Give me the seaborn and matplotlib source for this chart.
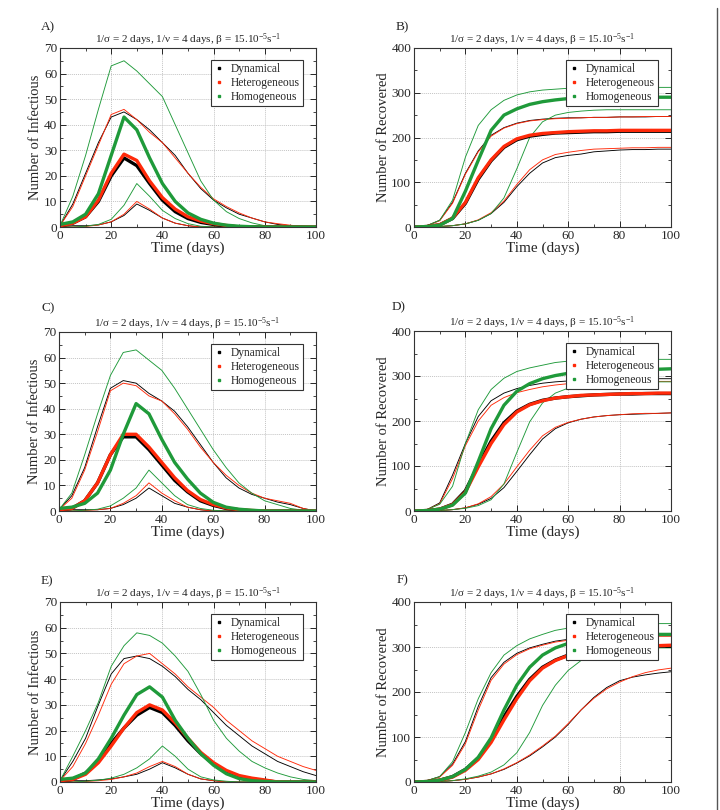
import seaborn as sns
import matplotlib.pyplot as plt
from matplotlib.lines import Line2D
from matplotlib.ticker import MultipleLocator

# time grid (days), values read every 5 days
days = list(range(0, 101, 5))

# ---- A) infectious ----
a_dyn = [0.5, 1.5, 4, 10, 20, 27, 24, 17, 10.5, 6, 3.3, 1.8, 1, 0.4, 0, 0, 0, 0, 0, 0, 0]
a_het = [0.5, 1.5, 4, 10.5, 21, 28.5, 26, 18, 11.5, 7, 4, 2.3, 1.3, 0.6, 0, 0, 0, 0, 0, 0, 0]
a_hom = [1, 2, 5, 13, 28, 43, 38, 27, 17, 10, 5.5, 3, 1.5, 0.7, 0.3, 0.1, 0, 0, 0, 0, 0]
a_dyn_hi = [0.5, 9, 21, 33, 43, 45, 42, 38, 33, 28, 21, 15, 10.5, 7.5, 5, 3.5, 2, 1, 0.5, 0.3, 0]
a_het_hi = [0.5, 8, 20, 32, 44, 46, 42, 37, 33, 27, 21, 15.5, 11, 8, 5.5, 3.5, 2, 1.3, 0.7, 0.2, 0]
a_hom_hi = [0.5, 12, 28, 46, 63, 65, 61, 56, 51, 40, 29, 18, 10.5, 6, 3.3, 1.6, 0.5, 0, 0, 0, 0]
a_dyn_lo = [0, 0.5, 0.5, 0.8, 2, 4.5, 9, 6.5, 3.5, 1.5, 0.5, 0, 0, 0, 0, 0, 0, 0, 0, 0, 0]
a_het_lo = [0, 0, 0.2, 0.8, 2, 5, 10, 7, 3.5, 1.5, 0.5, 0, 0, 0, 0, 0, 0, 0, 0, 0, 0]
a_hom_lo = [0, 0, 0.3, 1, 3, 8.5, 17, 12, 6.5, 3.3, 1.3, 0.3, 0, 0, 0, 0, 0, 0, 0, 0, 0]

# ---- B) recovered ----
b_dyn = [0, 1, 5, 19, 53, 107, 148, 178, 195, 203, 207, 210, 211, 212, 213, 213, 214, 214, 214, 214, 214]
b_het = [0, 1, 5, 20, 55, 110, 150, 180, 197, 205, 209, 211, 213, 214, 215, 215, 216, 216, 216, 216, 216]
b_hom = [0, 1, 4, 19, 80, 149, 216, 250, 264, 274, 280, 284, 287, 288, 289, 290, 290, 290, 290, 290, 290]
b_dyn_hi = [0, 3, 15, 55, 120, 170, 205, 222, 232, 238, 241, 243, 244, 244, 245, 245, 246, 246, 246, 247, 247]
b_het_hi = [0, 3, 14, 53, 118, 168, 203, 221, 231, 237, 240, 242, 243, 244, 245, 245, 246, 246, 247, 247, 247]
b_hom_hi = [0, 3, 15, 60, 156, 227, 262, 283, 295, 302, 306, 308, 310, 310, 311, 311, 311, 312, 312, 312, 312]
b_dyn_lo = [0, 0, 1, 3, 7, 15, 30, 55, 90, 120, 143, 155, 160, 163, 168, 170, 172, 173, 173, 174, 174]
b_het_lo = [0, 0, 1, 3, 7, 16, 32, 58, 95, 128, 150, 162, 167, 171, 174, 175, 176, 177, 177, 178, 178]
b_hom_lo = [0, 0, 1, 3, 7, 15, 30, 65, 130, 200, 235, 250, 256, 259, 261, 262, 262, 262, 262, 262, 262]

# ---- C) infectious ----
c_dyn = [0.5, 1, 4, 11, 22, 29, 29, 24, 18, 12, 7.5, 4, 2.2, 1, 0.5, 0, 0, 0, 0, 0, 0]
c_het = [0.5, 1, 4, 11, 22, 30, 30, 25, 19, 13, 8, 4.5, 2.5, 1.2, 0.5, 0.2, 0, 0, 0, 0, 0]
c_hom = [1, 1.5, 3, 7, 16, 30, 42, 38, 28, 19, 12.5, 7, 3.4, 1.5, 0.7, 0.3, 0, 0, 0, 0, 0]
c_dyn_hi = [0.5, 6, 17, 33, 48, 51, 50, 46, 43, 39, 33, 26, 19, 13, 9, 6.5, 5, 3.5, 2.5, 1, 0]
c_het_hi = [0.5, 5, 16, 31, 47, 50, 49, 45, 43, 38, 32, 25, 19, 14, 10, 7, 5, 4, 3, 1, 0]
c_hom_hi = [0.5, 7, 22, 38, 53, 62, 63, 59, 55, 48, 40, 32, 24, 17, 11, 7, 4, 2.5, 1, 0.3, 0]
c_dyn_lo = [0, 0.5, 0.5, 0.5, 1, 2.5, 5, 9, 6, 3, 1.5, 0.5, 0, 0, 0, 0, 0, 0, 0, 0, 0]
c_het_lo = [0, 0, 0.2, 0.5, 1, 3, 6, 11, 7, 4, 1.5, 0.5, 0, 0, 0, 0, 0, 0, 0, 0, 0]
c_hom_lo = [0, 0, 0.3, 0.7, 2, 5, 9, 16, 11, 6, 2.5, 1, 0.3, 0, 0, 0, 0, 0, 0, 0, 0]

# ---- D) recovered ----
d_dyn = [0, 1, 4, 15, 45, 102, 155, 196, 222, 237, 246, 251, 254, 256, 258, 259, 260, 260, 261, 261, 261]
d_het = [0, 1, 4, 14, 42, 98, 150, 192, 220, 236, 245, 251, 254, 257, 258, 259, 260, 261, 261, 262, 262]
d_hom = [0, 1, 4, 13, 40, 110, 183, 235, 266, 283, 294, 301, 306, 309, 311, 313, 314, 314, 315, 315, 316]
d_dyn_hi = [0, 3, 18, 80, 150, 210, 245, 262, 272, 279, 284, 287, 289, 291, 292, 292, 293, 293, 294, 294, 294]
d_het_hi = [0, 3, 16, 72, 145, 200, 235, 252, 263, 270, 276, 280, 283, 285, 286, 287, 287, 288, 288, 288, 288]
d_hom_hi = [0, 3, 15, 55, 150, 225, 270, 295, 310, 318, 324, 330, 333, 334, 335, 336, 336, 337, 337, 337, 337]
d_dyn_lo = [0, 0, 1, 3, 7, 15, 28, 52, 88, 125, 160, 183, 196, 204, 209, 212, 214, 215, 216, 217, 218]
d_het_lo = [0, 0, 1, 3, 7, 16, 32, 60, 98, 135, 167, 186, 197, 204, 209, 212, 214, 216, 217, 217, 218]
d_hom_lo = [0, 0, 1, 3, 6, 12, 25, 60, 130, 198, 240, 262, 273, 280, 284, 285, 286, 286, 287, 287, 287]

# ---- E) infectious ----
e_dyn = [0.5, 1, 3.5, 8, 15, 21, 26, 29, 27, 22, 16, 11, 7, 4, 2.2, 1.2, 0.5, 0, 0, 0, 0]
e_het = [0.5, 1, 3, 7.5, 14, 21, 27, 30, 28, 23, 17, 11.5, 7.5, 4.5, 2.5, 1.5, 0.8, 0, 0, 0, 0]
e_hom = [1, 1.5, 3.5, 9, 17, 26, 34, 37, 33, 24, 17, 11, 6.5, 3.2, 1.3, 0.5, 0.2, 0, 0, 0, 0]
e_dyn_hi = [0.5, 8, 17, 30, 42, 48, 49, 48, 45, 41, 36, 32, 27, 22, 18, 14, 11, 8, 6, 4, 2.5]
e_het_hi = [0.5, 6, 15, 26, 38, 46, 49, 50, 46, 42, 37, 33, 29, 24, 20, 16, 13, 10, 8, 6, 4.5]
e_hom_hi = [0.5, 10, 20, 31, 45, 53, 58, 57, 54, 49, 43, 34, 24, 17, 12, 8, 5.5, 3.5, 2, 1, 0.5]
e_dyn_lo = [0, 0.5, 0.5, 0.8, 1.2, 2, 3, 5, 7.5, 5.5, 3, 1.2, 0.5, 0, 0, 0, 0, 0, 0, 0, 0]
e_het_lo = [0, 0, 0.2, 0.5, 1, 2, 3.5, 6, 8, 6, 3, 1.2, 0.5, 0, 0, 0, 0, 0, 0, 0, 0]
e_hom_lo = [0, 0, 0.3, 0.7, 1.5, 3, 5.5, 9, 14, 10, 5, 2, 0.8, 0.3, 0, 0, 0, 0, 0, 0, 0]

# ---- F) recovered ----
f_dyn = [0, 1, 4, 12, 28, 53, 93, 145, 190, 228, 255, 271, 282, 290, 295, 297, 299, 300, 301, 302, 302]
f_het = [0, 1, 4, 11, 26, 50, 88, 138, 185, 225, 253, 270, 281, 289, 294, 298, 300, 301, 302, 303, 304]
f_hom = [0, 1, 4, 12, 28, 55, 98, 160, 215, 255, 282, 298, 308, 315, 320, 323, 325, 326, 327, 328, 328]
f_dyn_hi = [0, 3, 12, 40, 90, 168, 232, 266, 286, 298, 306, 313, 317, 320, 322, 323, 324, 324, 325, 325, 325]
f_het_hi = [0, 3, 11, 37, 85, 160, 226, 262, 283, 296, 304, 311, 315, 318, 320, 321, 322, 323, 323, 324, 324]
f_hom_hi = [0, 3, 12, 45, 110, 185, 243, 282, 303, 318, 328, 337, 342, 345, 347, 349, 350, 351, 351, 352, 352]
f_dyn_lo = [0, 0, 1, 3, 6, 11, 18, 28, 42, 58, 78, 100, 128, 160, 188, 210, 225, 233, 238, 242, 245]
f_het_lo = [0, 0, 1, 3, 6, 11, 18, 29, 43, 60, 80, 102, 130, 160, 186, 207, 222, 234, 243, 249, 253]
f_hom_lo = [0, 0, 1, 3, 7, 13, 22, 38, 65, 110, 170, 215, 248, 270, 283, 290, 294, 296, 297, 298, 298]

labels = ['Dynamical', 'Heterogeneous', 'Homogeneous']
colors = ['#000000', '#ff2a0a', '#1f9a3a']
title = r'1/σ = 2 days, 1/ν = 4 days, β = 15.10$^{-5}$s$^{-1}$'

sns.set_style('ticks')
plt.rcParams['font.family'] = ['Liberation Serif', 'DejaVu Serif']
plt.rcParams['mathtext.fontset'] = 'custom'
plt.rcParams['mathtext.rm'] = 'Liberation Serif'
plt.rcParams['mathtext.it'] = 'Liberation Serif:italic'

fig = plt.figure(figsize=(7.2, 8.1), dpi=100)

# axes boxes in pixels: left, top, right, bottom
boxes = {
    'A': (60, 48, 316, 227), 'B': (414, 48, 671, 227),
    'C': (59, 332, 316, 511), 'D': (414, 331, 671, 511),
    'E': (60, 602, 316, 782), 'F': (414, 602, 671, 782),
}
letter_pos = {'A': (48, 27), 'B': (402, 27), 'C': (48, 308),
              'D': (399, 307), 'E': (47, 581), 'F': (403, 580)}

panels = {
    'A': ([a_dyn, a_het, a_hom], [a_dyn_hi, a_het_hi, a_hom_hi], [a_dyn_lo, a_het_lo, a_hom_lo], 'inf'),
    'B': ([b_dyn, b_het, b_hom], [b_dyn_hi, b_het_hi, b_hom_hi], [b_dyn_lo, b_het_lo, b_hom_lo], 'rec'),
    'C': ([c_dyn, c_het, c_hom], [c_dyn_hi, c_het_hi, c_hom_hi], [c_dyn_lo, c_het_lo, c_hom_lo], 'inf'),
    'D': ([d_dyn, d_het, d_hom], [d_dyn_hi, d_het_hi, d_hom_hi], [d_dyn_lo, d_het_lo, d_hom_lo], 'rec'),
    'E': ([e_dyn, e_het, e_hom], [e_dyn_hi, e_het_hi, e_hom_hi], [e_dyn_lo, e_het_lo, e_hom_lo], 'inf'),
    'F': ([f_dyn, f_het, f_hom], [f_dyn_hi, f_het_hi, f_hom_hi], [f_dyn_lo, f_het_lo, f_hom_lo], 'rec'),
}

W, H = 720, 810
for key, (means, his, los, kind) in panels.items():
    l, t, r, b = boxes[key]
    ax = fig.add_axes([l / W, 1 - b / H, (r - l) / W, (b - t) / H])

    # thin envelope curves
    for curves in (his, los):
        for vals, c in zip(curves, colors):
            sns.lineplot(x=days, y=vals, ax=ax, color=c, linewidth=0.65)
    # thick mean curves
    for vals, c in zip(means, colors):
        sns.lineplot(x=days, y=vals, ax=ax, color=c, linewidth=2.4)

    ax.set_xlim(0, 100)
    ax.xaxis.set_major_locator(MultipleLocator(20))
    ax.xaxis.set_minor_locator(MultipleLocator(10))
    if kind == 'inf':
        ax.set_ylim(0, 70)
        ax.yaxis.set_major_locator(MultipleLocator(10))
        ax.yaxis.set_minor_locator(MultipleLocator(5))
        ax.set_ylabel('Number of Infectious', fontsize=10.5, labelpad=1)
    else:
        ax.set_ylim(0, 400)
        ax.yaxis.set_major_locator(MultipleLocator(100))
        ax.yaxis.set_minor_locator(MultipleLocator(50))
        ax.set_ylabel('Number of Recovered', fontsize=10.5, labelpad=1)
    ax.set_xlabel('Time (days)', fontsize=11, labelpad=0)
    ax.tick_params(which='both', direction='in', top=True, right=True, labelsize=9.5, pad=2)
    ax.tick_params(which='major', length=4, width=0.7)
    ax.tick_params(which='minor', length=2, width=0.6)
    ax.grid(True, which='major', color='#c4c4c4', linestyle=(0, (1, 1)), linewidth=0.7)
    for sp in ax.spines.values():
        sp.set_linewidth(0.8)
        sp.set_color('#333333')
    ax.set_title(title, fontsize=8, pad=4)

    handles = [Line2D([], [], marker='s', linestyle='none', color=c, markersize=2, label=lab)
               for c, lab in zip(colors, labels)]
    leg = ax.legend(handles=handles, loc='upper right', bbox_to_anchor=(0.95, 0.935),
                    frameon=True, fancybox=False, framealpha=1, edgecolor='#333333',
                    fontsize=8.3, handlelength=0.8, handletextpad=0.6,
                    borderpad=0.3, labelspacing=0.15, borderaxespad=0)
    leg.get_frame().set_linewidth(0.8)

    lx, ly = letter_pos[key]
    fig.text(lx / W, 1 - ly / H, key + ')', fontsize=9.5, ha='center', va='center')

# page border on the right edge
fig.add_artist(Line2D([717 / W, 717 / W], [0, 1 - 8 / H], transform=fig.transFigure,
                      color='#555555', linewidth=1))

fig.savefig('out.png', dpi=100, facecolor='white')
